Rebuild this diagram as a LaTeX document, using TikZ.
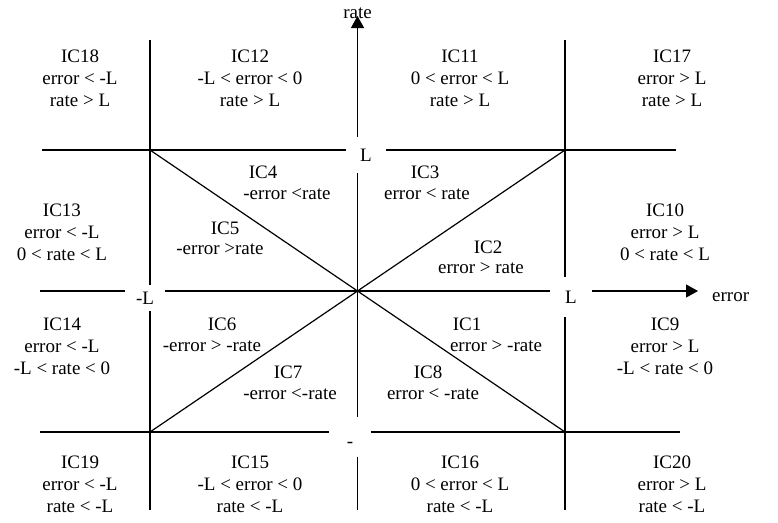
\documentclass[tikz,border=0pt]{standalone}
\usepackage{fontspec}
\setmainfont{Liberation Serif}
\usetikzlibrary{arrows.meta, calc}

\begin{document}
\begin{tikzpicture}[
    x=1pt, y=-1pt,
    % Styles
    region/.style={ % Condition text of a region
        align=center,
        font=\fontsize{19}{22}\selectfont,
        inner sep=0pt
    },
    bound/.style={ % Labels that break the lines
        font=\fontsize{19}{22}\selectfont,
        inner sep=0pt
    },
    bline/.style={
        line width=1.3pt
    },
    axis/.style={ % Axes with arrow
        bline,
        -{Triangle[length=12pt, width=13pt]}
    }
]
    \useasboundingbox (0,0) rectangle (778,522);

    % Corners of the inner square and origin
    \coordinate (o) at (357.5,291);
    \coordinate (tl) at (150,150);
    \coordinate (tr) at (565,150);
    \coordinate (bl) at (150,432);
    \coordinate (br) at (565,432);

    % Free line ends
    \coordinate (tlw) at (42,150);
    \coordinate (tre) at (676,150);
    \coordinate (blw) at (40,432);
    \coordinate (bre) at (680,432);
    \coordinate (tln) at (150,40);
    \coordinate (bls) at (150,510);
    \coordinate (trn) at (565,40);
    \coordinate (brs) at (565,510);
    \coordinate (ow) at (40,291);
    \coordinate (os) at (357.5,510);

    % Limit labels and axis names
    \node[bound, minimum width=40pt, minimum height=36pt] (Ltop) at (366,155) {L};
    \node[bound, minimum width=41pt, minimum height=39pt, text height=20pt, text depth=0pt] (dash) at (350,437) {-};
    \node[bound, minimum width=40pt, minimum height=26pt] (mL) at (145,298) {-L};
    \node[bound, minimum width=41pt, minimum height=40pt] (pL) at (571,297) {L};
    \node[bound, anchor=south] (rate) at (357.5,19) {rate};
    \node[bound, anchor=west] (err) at (712,297) {error};

    % Lines
    \draw[bline] (tlw) -- (Ltop.west |- tl);
    \draw[bline] (Ltop.east |- tl) -- (tre);
    \draw[bline] (blw) -- (dash.west |- bl);
    \draw[bline] (dash.east |- bl) -- (bre);
    \draw[bline] (tln) -- (mL.north -| tl);
    \draw[bline] (mL.south -| tl) -- (bls);
    \draw[bline] (trn) -- (pL.north -| tr);
    \draw[bline] (pL.south -| tr) -- (brs);
    \draw[bline] (ow) -- (mL.west |- o);
    \draw[bline] (mL.east |- o) -- (pL.west |- o);
    \draw[bline] (Ltop.south -| o) -- (dash.north -| o);
    \draw[bline] (dash.south -| o) -- (os);

    % Axes
    \draw[axis] (pL.east |- o) -- ([xshift=-14pt]err.west |- o);
    \draw[axis] (Ltop.north -| o) -- ([yshift=3pt]rate.south);

    % Diagonals
    \draw[line width=1.2pt] (tl) -- (br);
    \draw[line width=1.2pt] (bl) -- (tr);

    % Outer regions
    \node[region] (ic18) at (80,78) {IC18\\error < -L\\rate > L};
    \node[region] (ic12) at (250,78) {IC12\\-L < error < 0\\rate > L};
    \node[region] (ic11) at (460,78) {IC11\\0 < error < L\\rate > L};
    \node[region] (ic17) at (672,78) {IC17\\error > L\\rate > L};
    \node[region] (ic13) at (62,232) {IC13\\error < -L\\0 < rate < L};
    \node[region] (ic10) at (665,232) {IC10\\error > L\\0 < rate < L};
    \node[region] (ic14) at (62,346) {IC14\\error < -L\\-L < rate < 0};
    \node[region] (ic9) at (665,346) {IC9\\error > L\\-L < rate < 0};
    \node[region] (ic19) at (80,484) {IC19\\error < -L\\rate < -L};
    \node[region] (ic15) at (250,484) {IC15\\-L < error < 0\\rate < -L};
    \node[region] (ic16) at (460,484) {IC16\\0 < error < L\\rate < -L};
    \node[region] (ic20) at (672,484) {IC20\\error > L\\rate < -L};

    % Inner regions
    \node[region] (ic4) at (263,172) {IC4};
    \node[region] (c4) at (287,194) {-error <rate};
    \node[region] (ic3) at (425,172) {IC3};
    \node[region] (c3) at (427,194) {error < rate};
    \node[region] (ic5) at (225,228) {IC5};
    \node[region] (c5) at (220,249) {-error >rate};
    \node[region] (ic2) at (488,247) {IC2};
    \node[region] (c2) at (481,268) {error > rate};
    \node[region] (ic6) at (222,324) {IC6};
    \node[region] (c6) at (212,346) {-error > -rate};
    \node[region] (ic1) at (467,324) {IC1};
    \node[region] (c1) at (496,346) {error > -rate};
    \node[region] (ic7) at (288,372) {IC7};
    \node[region] (c7) at (290,394) {-error <-rate};
    \node[region] (ic8) at (428,372) {IC8};
    \node[region] (c8) at (433,394) {error < -rate};
\end{tikzpicture}
\end{document}
